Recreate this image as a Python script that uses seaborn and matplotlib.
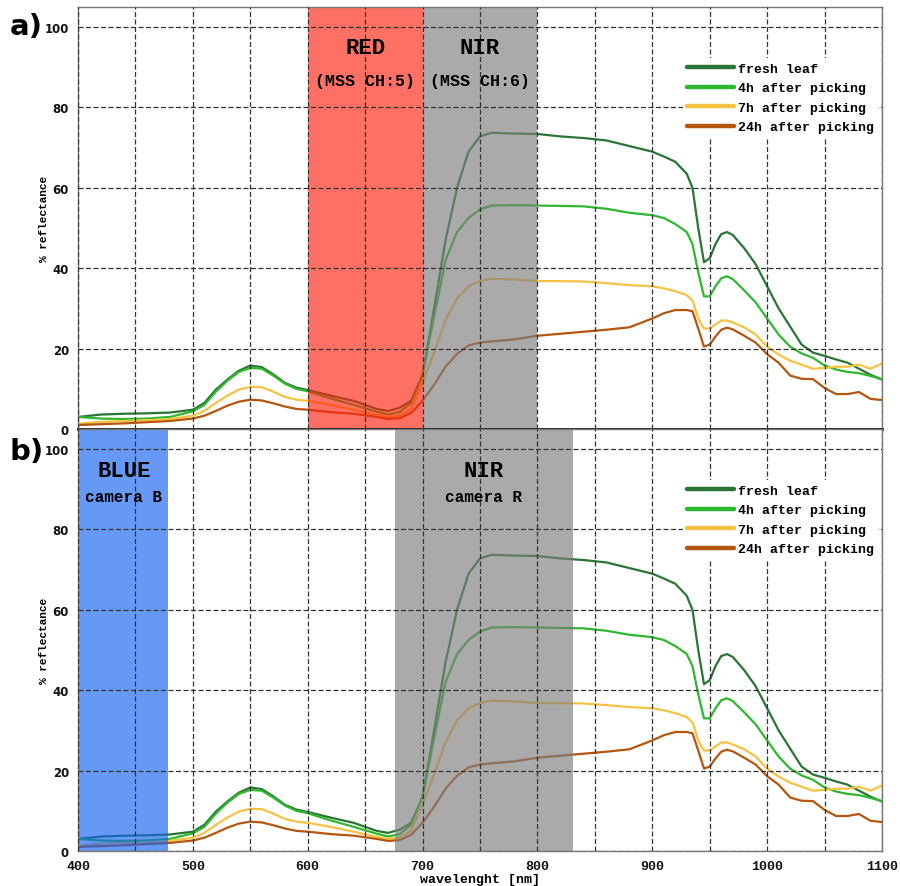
import pandas as pd
import seaborn as sns
import matplotlib.pyplot as plt
import numpy as np
from matplotlib.ticker import MultipleLocator

# wavelengths [nm] and the four reflectance curves (% reflectance)
wavelength = [400, 420, 440, 460, 480, 500, 510, 520, 530, 540, 550, 560, 570, 580, 590,
              600, 620, 640, 660, 670, 680, 690, 700, 710, 720, 730, 740, 750, 760, 780,
              800, 820, 840, 860, 880, 900, 910, 920, 930, 935, 940, 945, 950, 955, 960,
              965, 970, 980, 990, 1000, 1010, 1020, 1030, 1040, 1050, 1060, 1070, 1080,
              1090, 1100]

fresh_leaf = [3.0, 3.6, 3.8, 3.9, 4.1, 4.8, 6.5, 9.8, 12.3, 14.5, 15.8, 15.4, 13.6, 11.5, 10.3,
              9.7, 8.3, 7.0, 5.0, 4.5, 5.3, 7.0, 13.5, 30.0, 47.0, 60.0, 69.0, 72.8, 73.7, 73.5,
              73.4, 72.8, 72.4, 71.8, 70.4, 69.0, 67.8, 66.5, 63.5, 60.0, 50.0, 41.5, 42.5, 46.0, 48.5,
              49.0, 48.3, 45.0, 41.0, 35.5, 30.0, 25.5, 21.0, 19.0, 18.2, 17.3, 16.5, 15.0,
              13.5, 12.3]

after_4h = [3.0, 2.6, 2.5, 2.6, 3.0, 4.4, 6.0, 9.3, 12.0, 14.2, 15.2, 15.0, 13.3, 11.3, 10.0,
            9.4, 7.6, 6.0, 4.3, 3.6, 4.2, 6.5, 13.5, 28.0, 42.0, 49.0, 52.5, 54.6, 55.6, 55.7,
            55.6, 55.5, 55.4, 54.8, 53.8, 53.2, 52.5, 51.0, 49.0, 46.0, 39.0, 33.0, 33.0, 35.5, 37.5,
            38.0, 37.3, 34.5, 31.5, 27.5, 23.5, 20.5, 18.8, 17.7, 15.8, 14.8, 14.2, 13.9,
            13.2, 12.4]

after_7h = [1.3, 1.8, 2.0, 2.2, 2.5, 3.3, 4.5, 6.5, 8.3, 9.8, 10.5, 10.4, 9.3, 8.0, 7.3,
            7.0, 6.0, 4.8, 3.5, 3.0, 3.3, 5.0, 11.5, 19.0, 27.0, 32.5, 35.5, 36.8, 37.4, 37.2,
            36.8, 36.8, 36.7, 36.3, 35.8, 35.5, 35.0, 34.3, 33.3, 32.0, 27.5, 25.0, 25.0, 26.0, 27.0,
            27.0, 26.5, 25.3, 23.5, 20.5, 18.5, 17.0, 16.0, 15.0, 15.2, 15.5, 15.5, 16.0,
            15.0, 16.3]

after_24h = [1.0, 1.2, 1.4, 1.7, 2.0, 2.6, 3.3, 4.5, 5.8, 6.8, 7.3, 7.1, 6.4, 5.6, 5.0,
             4.8, 4.2, 3.8, 3.0, 2.5, 2.7, 4.0, 7.0, 11.0, 15.5, 18.7, 20.8, 21.5, 21.8, 22.3,
             23.2, 23.7, 24.2, 24.7, 25.3, 27.5, 28.8, 29.6, 29.6, 29.3, 25.0, 20.5, 21.0, 23.0, 24.7,
             25.2, 24.8, 23.2, 21.5, 18.6, 16.5, 13.3, 12.5, 12.4, 10.2, 8.7, 8.7, 9.2,
             7.5, 7.2]

labels = ['fresh leaf', '4h after picking', '7h after picking', '24h after picking']
colors = ['#2a7535', '#2db82d', '#f5c242', '#b5560f']

df = pd.DataFrame({'wavelength': wavelength * 4,
                   'reflectance': fresh_leaf + after_4h + after_7h + after_24h,
                   'sample': np.repeat(labels, len(wavelength))})

mono = 'Liberation Mono'

sns.set_style('white')
plt.rcParams['text.color'] = 'black'
plt.rcParams['axes.labelcolor'] = 'black'
plt.rcParams['xtick.color'] = '#111111'
plt.rcParams['ytick.color'] = '#111111'

fig = plt.figure(figsize=(9, 8.87), dpi=100)
ax_a = fig.add_axes([0.0867, 0.5152, 0.8933, 0.4758])
ax_b = fig.add_axes([0.0867, 0.0395, 0.8933, 0.4757])

# bands: (ax, start, end, colour, title, subtitle, text x)
bands = [
    (ax_a, 600, 700, '#ff2311', 'RED', '(MSS CH:5)', 650),
    (ax_a, 700, 800, '#7d7d7d', 'NIR', '(MSS CH:6)', 750),
    (ax_b, 400, 478, '#1462f0', 'BLUE', 'camera B', 440),
    (ax_b, 676, 831, '#7d7d7d', 'NIR', 'camera R', 753),
]

for ax in (ax_a, ax_b):
    sns.lineplot(data=df, x='wavelength', y='reflectance', hue='sample',
                 palette=colors, hue_order=labels, linewidth=1.6, ax=ax,
                 legend=False, zorder=1)
    ax.set_xlim(400, 1100)
    ax.set_ylim(0, 105)
    ax.xaxis.set_major_locator(MultipleLocator(100))
    ax.xaxis.set_minor_locator(MultipleLocator(50))
    ax.yaxis.set_major_locator(MultipleLocator(20))
    ax.set_axisbelow(False)
    ax.grid(which='both', axis='x', color='#333333', linestyle=(0, (4, 2)), linewidth=0.9)
    ax.grid(which='major', axis='y', color='#333333', linestyle=(0, (4, 2)), linewidth=0.9)
    ax.tick_params(axis='both', which='major', length=3, width=0.8, color='#555555', direction='out')
    ax.tick_params(axis='both', which='minor', length=0)
    for lab in ax.get_yticklabels():
        lab.set_fontweight('bold')
        lab.set_fontsize(8.5)
    for s in ax.spines.values():
        s.set_color('#777777')
        s.set_linewidth(1.0)
    ax.set_ylabel('% reflectance', fontfamily=mono, fontweight='bold', fontsize=8, labelpad=-3)

    handles = [plt.Line2D([], [], color=c, linewidth=3.2) for c in colors]
    leg = ax.legend(handles, labels, loc='upper right', bbox_to_anchor=(0.995, 0.878),
                    frameon=True, facecolor='white', edgecolor='none', framealpha=1,
                    fancybox=False, handlelength=3.6, handletextpad=0.3, labelspacing=0.55,
                    borderaxespad=0, borderpad=0.3,
                    prop={'family': mono, 'weight': 'bold', 'size': 9.5})
    leg.set_zorder(6)

for ax, x0, x1, col, title, sub, xt in bands:
    ax.axvspan(x0, x1, color=col, alpha=0.65, linewidth=0, zorder=2)
    ax.text(xt, 94.8, title, ha='center', va='center', fontfamily=mono,
            fontweight='bold', fontsize=16, zorder=5)
    ax.text(xt, 86.8 if ax is ax_a else 88.3, sub, ha='center', va='center', fontfamily=mono,
            fontweight='bold', fontsize=12 if ax is ax_a else 11.5, zorder=5)

ax_a.set_xlabel('')
ax_a.tick_params(axis='x', labelbottom=False)
ax_a.spines['bottom'].set_color('#111111')
ax_a.spines['bottom'].set_linewidth(2.0)

ax_b.set_xlabel('wavelenght [nm]', fontfamily=mono, fontweight='bold', fontsize=9.5, labelpad=1)
for lab in ax_b.get_xticklabels():
    lab.set_fontfamily(mono)
    lab.set_fontweight('bold')
    lab.set_fontsize(9.5)

fig.text(0.011, 0.969, 'a)', fontsize=21, fontweight='bold', va='center', ha='left')
fig.text(0.011, 0.490, 'b)', fontsize=21, fontweight='bold', va='center', ha='left')

fig.savefig('out.png', dpi=100)
